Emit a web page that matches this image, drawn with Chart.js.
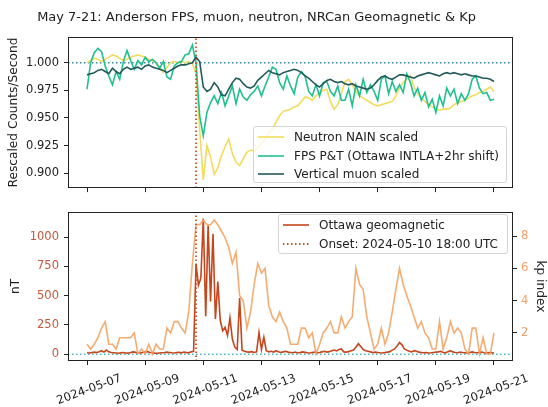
<!DOCTYPE html>
<html><head><meta charset="utf-8">
<script src="https://cdn.jsdelivr.net/npm/chart.js@4/dist/chart.umd.min.js"></script>
<style>
html,body{margin:0;padding:0;background:#fff;}
#wrap{position:relative;width:548px;height:407px;overflow:hidden;font-family:"DejaVu Sans",sans-serif;}
canvas{position:absolute;left:0;}
#c1{top:0;} #c2{top:200px;}
.legend{position:absolute;background:rgba(255,255,255,0.8);border:1px solid #d4d4d4;border-radius:3px;box-sizing:border-box;font-size:12px;color:#222;}
.legend .row{position:absolute;left:0;right:0;height:18px;line-height:18px;white-space:nowrap;}
.legend svg{position:absolute;left:4px;top:0;}
.legend span{position:absolute;left:40px;top:0;}
</style></head>
<body><div id="wrap">
<canvas id="c1" width="548" height="200"></canvas>
<canvas id="c2" width="548" height="207"></canvas>
<div id="leg1" class="legend" style="left:253px;top:126px;width:254px;height:57px;"></div>
<div id="leg2" class="legend" style="left:278px;top:214px;width:230px;height:40px;"></div>
</div>
<script>
// ---------- data ----------
const xTickDays = [0, 2, 4, 6, 8, 10, 12, 14]; // days since 2024-05-07 00:00 UTC
const xTickLabels = ['2024-05-07','2024-05-09','2024-05-11','2024-05-13','2024-05-15','2024-05-17','2024-05-19','2024-05-21'];
const topYTicks = [0.900, 0.925, 0.950, 0.975, 1.000];
const nTTicks = [0, 250, 500, 750, 1000];
const kpTicks = [2, 4, 6, 8];
const onsetDay = 3.75; // 2024-05-10 18:00 UTC
const stepTopHours = 3;   // neutron / FPS / muon sampling
const stepGeoHours = 2;   // Ottawa geomagnetic sampling
const stepKpHours = 3;    // Kp sampling

const neutron = [
1.000,1.002,1.004,1.003,1.001,1.003,1.005,1.007,1.006,1.004,
1.002,1.003,1.005,1.006,1.007,1.006,1.005,1.003,1.002,1.000,
0.996,0.991,0.996,1.000,1.001,1.000,1.001,1.000,1.001,0.999,
0.990,0.940,0.894,0.925,0.915,0.899,0.905,0.916,0.924,0.931,
0.918,0.910,0.907,0.913,0.919,0.921,0.920,0.923,0.927,0.931,
0.936,0.940,0.946,0.952,0.956,0.957,0.958,0.960,0.961,0.965,
0.969,0.968,0.966,0.970,0.973,0.975,0.976,0.965,0.958,0.962,
0.972,0.983,0.985,0.980,0.974,0.970,0.968,0.966,0.964,0.962,
0.961,0.962,0.963,0.964,0.965,0.970,0.977,0.982,0.985,0.988,
0.978,0.972,0.968,0.965,0.962,0.960,0.958,0.957,0.958,0.958,
0.959,0.962,0.964,0.965,0.966,0.968,0.970,0.971,0.973,0.974,
0.976,0.978,0.974];

const fps = [
0.976,1.000,1.009,1.013,1.010,0.997,0.988,0.980,0.992,0.985,
1.001,1.011,1.002,0.994,1.002,0.998,1.005,1.001,1.003,1.000,
0.995,1.001,0.987,0.985,0.997,1.000,1.001,1.007,1.008,1.016,
1.000,0.952,0.934,0.955,0.964,0.970,0.963,0.973,0.961,0.970,
0.979,0.963,0.976,0.969,0.966,0.971,0.974,0.979,0.970,0.979,
0.987,0.996,0.994,0.982,0.976,0.988,0.979,0.972,0.987,0.992,
0.988,0.974,0.970,0.980,0.970,0.982,0.983,0.974,0.970,0.979,
0.966,0.966,0.976,0.961,0.980,0.970,0.985,0.973,0.980,0.974,
0.966,0.985,0.988,0.972,0.983,0.974,0.980,0.973,0.990,0.982,
0.970,0.977,0.966,0.973,0.960,0.967,0.955,0.970,0.961,0.977,
0.970,0.976,0.963,0.972,0.966,0.972,0.985,0.988,0.977,0.972,
0.973,0.966,0.967];

const muon = [
0.989,0.990,0.991,0.993,0.994,0.992,0.990,0.995,0.992,0.990,
0.994,0.996,0.994,0.995,0.996,0.994,0.997,0.998,0.996,0.995,
0.994,0.993,0.991,0.993,0.995,0.997,0.998,0.998,0.999,1.000,
1.005,1.001,0.978,0.974,0.976,0.982,0.978,0.971,0.970,0.976,
0.982,0.986,0.985,0.981,0.978,0.977,0.979,0.984,0.987,0.990,
0.993,0.991,0.990,0.989,0.991,0.992,0.993,0.994,0.993,0.991,
0.988,0.986,0.983,0.980,0.978,0.981,0.984,0.985,0.983,0.982,
0.983,0.981,0.980,0.981,0.979,0.978,0.977,0.976,0.977,0.980,
0.984,0.987,0.988,0.986,0.985,0.987,0.989,0.989,0.988,0.987,
0.986,0.988,0.989,0.990,0.991,0.990,0.989,0.988,0.990,0.991,
0.990,0.991,0.990,0.989,0.990,0.989,0.988,0.988,0.987,0.986,
0.986,0.985,0.983];

const geomag = [
12,10,14,18,15,22,30,18,35,20,14,12,
10,8,12,15,10,9,14,20,16,12,10,14,
18,22,15,12,9,8,10,12,14,18,15,12,
10,14,16,12,18,15,12,20,25,
770,590,650,1160,325,1100,450,1030,300,620,290,200,230,160,310,130,60,40,480,35,
25,20,18,22,15,20,186,40,144,30,
20,25,18,30,22,15,20,25,18,
15,12,18,10,14,20,16,12,10,14,18,12,
15,20,25,18,22,30,35,28,40,45,20,18,
22,30,35,60,90,65,40,30,25,20,15,18,
15,12,10,14,18,22,35,45,70,100,80,45,
35,25,20,30,25,18,15,12,14,10,12,15,
18,20,25,15,12,22,30,20,15,12,18,14,
12,10,15,20,14,12,16,18,12,10,14,12,10];

const kp = [
1.3,1.0,1.3,1.7,2.3,2.7,1.3,1.3,1.0,1.7,
1.7,1.7,1.7,2.0,0.7,1.0,0.7,1.3,0.7,1.3,
1.0,1.0,2.3,2.0,2.7,2.7,2.3,2.0,3.3,6.3,
8.7,8.7,9.0,8.7,8.7,9.0,8.7,8.3,7.9,7.3,
6.3,7.0,4.3,4.0,2.3,3.3,5.0,6.3,5.7,6.0,
3.7,3.0,2.7,3.3,2.7,2.3,1.3,1.3,1.3,2.3,
2.3,1.7,2.0,0.7,1.3,2.0,2.3,2.7,2.0,2.0,
3.0,2.3,2.7,3.0,6.0,5.0,4.7,3.0,2.0,1.0,
1.3,2.3,1.3,2.0,3.3,4.7,6.0,5.0,4.3,3.7,
3.0,2.3,2.7,2.0,1.7,1.0,1.0,2.7,1.0,1.7,
2.7,2.0,2.3,2.0,1.0,0.7,2.3,2.3,0.7,1.7,
0.7,0.7,2.0];

// ---------- chart setup ----------
const X_MIN = -0.654, X_MAX = 14.654;
const TOP_MIN = 0.8866, TOP_MAX = 1.0232;
const NT_MIN = -58, NT_MAX = 1216;
const KP_MIN = 0.26, KP_MAX = 9.5;

const C_NEUTRON = '#f3dc5c', C_FPS = '#1fc08e', C_MUON = '#225a5c';
const C_GEO = '#c4461d', C_ONSET = '#cc5220', C_KP = 'rgba(244,160,94,0.88)';
const C_BASE_TOP = '#2e88a0', C_BASE_BOT = '#4fb3c4';
const DOT = [1.5, 2.5];
const TICK_FONT = 11.5, TITLE_FONT = 12.2;

Chart.defaults.font.family = '"DejaVu Sans", sans-serif';
Chart.defaults.color = '#222';

const toXY = (arr, stepH) => arr.map((v, i) => ({x: i * stepH / 24, y: v}));
const setTicks = vals => axis => { axis.ticks = vals.map(v => ({value: v})); };

const framePlugin = {
  id: 'frame',
  afterDatasetsDraw(chart) {
    const {ctx, chartArea: a} = chart;
    ctx.save();
    ctx.strokeStyle = '#222'; ctx.lineWidth = 1;
    const l = Math.round(a.left) + 0.5, t = Math.round(a.top) + 0.5;
    const r = Math.round(a.right) - 0.5, b = Math.round(a.bottom) - 0.5;
    ctx.strokeRect(l, t, r - l, b - t);
    ctx.restore();
  }
};

const lineDs = (label, data, color, extra) => Object.assign({
  label, data, borderColor: color, backgroundColor: color, borderWidth: 1.6,
  pointRadius: 0, tension: 0, fill: false
}, extra || {});

const gridOpts = {drawOnChartArea: false, drawTicks: true, tickLength: 4, color: '#222', lineWidth: 1};

// Top chart
const topChart = new Chart(document.getElementById('c1'), {
  type: 'line',
  data: {datasets: [
    lineDs('onset', [{x: onsetDay, y: TOP_MIN}, {x: onsetDay, y: TOP_MAX}], C_ONSET, {borderDash: DOT, borderWidth: 1.8}),
    lineDs('Vertical muon scaled', toXY(muon, stepTopHours), C_MUON, {legend: true, legendOrder: 3}),
    lineDs('FPS P&T (Ottawa INTLA+2hr shift)', toXY(fps, stepTopHours), C_FPS, {legend: true, legendOrder: 2}),
    lineDs('Neutron NAIN scaled', toXY(neutron, stepTopHours), C_NEUTRON, {legend: true, legendOrder: 1}),
    lineDs('baseline', [{x: X_MIN, y: 1.0}, {x: X_MAX, y: 1.0}], C_BASE_TOP, {borderDash: DOT, borderWidth: 1.6})
  ]},
  options: {
    responsive: false, animation: false, devicePixelRatio: 1,
    layout: {padding: {top: 0, left: 0, right: 35, bottom: 0}},
    plugins: {
      legend: {display: false}, tooltip: {enabled: false},
      title: {display: true, text: 'May 7-21: Anderson FPS, muon, neutron, NRCan Geomagnetic & Kp',
        font: {size: 12.95, weight: 'normal'}, color: '#222', padding: {top: 9.8, bottom: 11.7}}
    },
    scales: {
      x: {type: 'linear', min: X_MIN, max: X_MAX,
        afterBuildTicks: setTicks(xTickDays),
        ticks: {display: false},
        grid: gridOpts, border: {display: false},
        afterFit: s => { s.height = 10; s.paddingLeft = 0; s.paddingRight = 0; }
      },
      y: {min: TOP_MIN, max: TOP_MAX,
        afterBuildTicks: setTicks(topYTicks),
        ticks: {callback: v => v.toFixed(3), font: {size: TICK_FONT}, color: '#222', padding: 5},
        grid: gridOpts, border: {display: false},
        title: {display: true, text: 'Rescaled Counts/Second', font: {size: TITLE_FONT}, color: '#222', padding: {top: 6.5, bottom: 0}},
        afterFit: s => { s.width = 68; }
      }
    }
  },
  plugins: [framePlugin]
});

// Bottom chart
const botChart = new Chart(document.getElementById('c2'), {
  type: 'line',
  data: {datasets: [
    lineDs('Onset: 2024-05-10 18:00 UTC', [{x: onsetDay, y: NT_MIN}, {x: onsetDay, y: NT_MAX}], C_ONSET, {borderDash: DOT, borderWidth: 1.8, yAxisID: 'y', legend: true, legendOrder: 2}),
    lineDs('kp', toXY(kp, stepKpHours), C_KP, {yAxisID: 'kp', borderWidth: 1.6}),
    lineDs('Ottawa geomagnetic', toXY(geomag, stepGeoHours), C_GEO, {yAxisID: 'y', legend: true, legendOrder: 1}),
    lineDs('zero', [{x: X_MIN, y: 0}, {x: X_MAX, y: 0}], C_BASE_BOT, {borderDash: DOT, borderWidth: 1.6, yAxisID: 'y'})
  ]},
  options: {
    responsive: false, animation: false, devicePixelRatio: 1,
    layout: {padding: {top: 7, left: 0, right: 0, bottom: 0}},
    plugins: {legend: {display: false}, tooltip: {enabled: false}, title: {display: false}},
    scales: {
      x: {type: 'linear', min: X_MIN, max: X_MAX,
        afterBuildTicks: setTicks(xTickDays),
        ticks: {callback: v => xTickLabels[xTickDays.indexOf(v)], autoSkip: false,
          minRotation: 20, maxRotation: 20, labelOffset: 34, padding: 6.5, font: {size: 11.7}, color: '#222'},
        grid: gridOpts, border: {display: false},
        afterFit: s => { s.height = 46; s.paddingLeft = 0; s.paddingRight = 0; }
      },
      y: {position: 'left', min: NT_MIN, max: NT_MAX,
        afterBuildTicks: setTicks(nTTicks),
        ticks: {callback: v => String(v), font: {size: TICK_FONT}, color: '#c9583a', padding: 5},
        grid: gridOpts, border: {display: false},
        title: {display: true, text: 'nT', font: {size: TITLE_FONT}, color: '#222', padding: {top: 8.5, bottom: 0}},
        afterFit: s => { s.width = 68; }
      },
      kp: {position: 'right', min: KP_MIN, max: KP_MAX,
        afterBuildTicks: setTicks(kpTicks),
        ticks: {callback: v => String(v), font: {size: TICK_FONT}, color: '#f3a066', padding: 4},
        grid: gridOpts, border: {display: false},
        title: {display: true, text: 'kp index', font: {size: TITLE_FONT}, color: '#222', padding: {top: 1, bottom: 0}},
        afterFit: s => { s.width = 35; }
      }
    }
  },
  plugins: [framePlugin]
});

// HTML legends built from the charts' datasets
function buildLegend(chart, el, firstCenter, spacing) {
  const items = chart.data.datasets.filter(d => d.legend).sort((a, b) => a.legendOrder - b.legendOrder);
  items.forEach((d, i) => {
    const row = document.createElement('div');
    row.className = 'row';
    row.style.top = (firstCenter + i * spacing - 9) + 'px';
    const dash = d.borderDash ? 'stroke-dasharray="' + d.borderDash.join(' ') + '"' : '';
    row.innerHTML = '<svg width="30" height="18"><line x1="0" y1="9" x2="26" y2="9" stroke="' + d.borderColor +
      '" stroke-width="' + d.borderWidth + '" ' + dash + '/></svg>';
    const sp = document.createElement('span');
    sp.textContent = d.label;
    row.appendChild(sp);
    el.appendChild(row);
  });
}
buildLegend(topChart, document.getElementById('leg1'), 10, 18.5);
buildLegend(botChart, document.getElementById('leg2'), 10, 18.5);
</script>
</body></html>
